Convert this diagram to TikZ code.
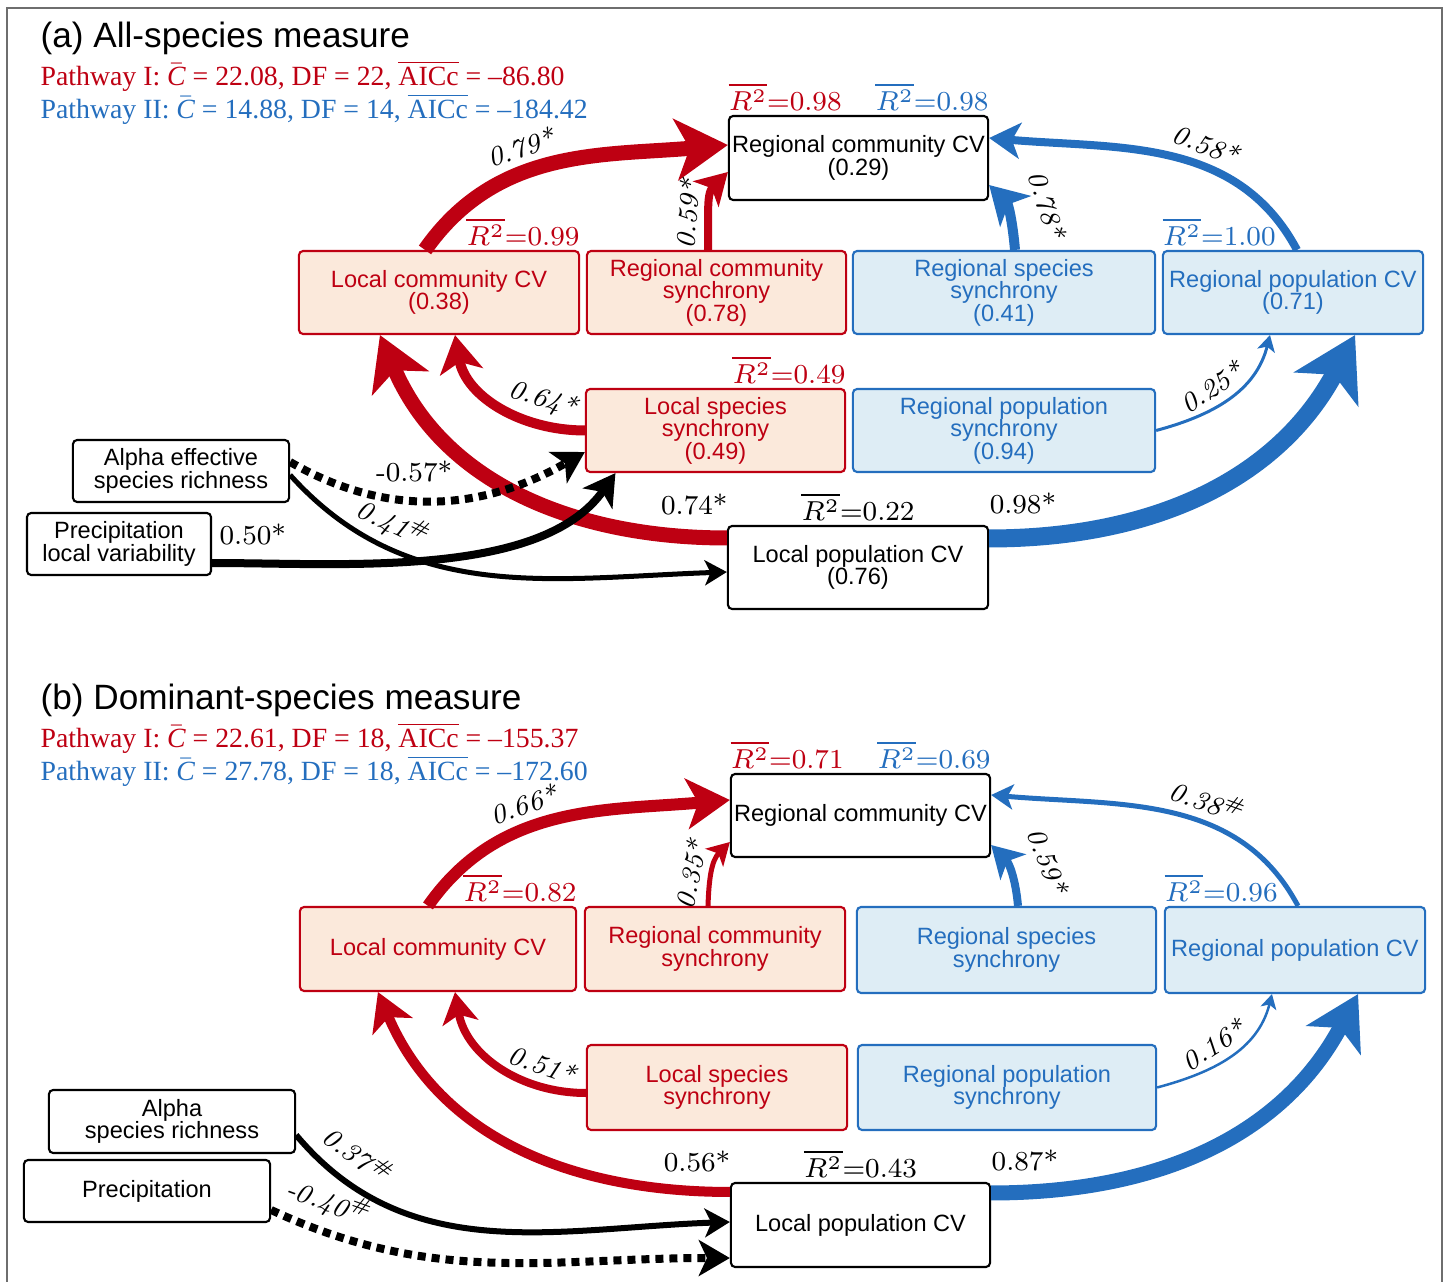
\RequirePackage{fix-cm}
\documentclass[tikz,border=0pt]{standalone}
\usepackage{fontspec}
\usetikzlibrary{arrows.meta, positioning}

\newfontfamily\sansf{Liberation Sans}
\newfontfamily\serifp{Liberation Serif}
\definecolor{pathone}{RGB}{190,0,18}
\definecolor{pathtwo}{RGB}{36,110,190}
\definecolor{peach}{RGB}{251,233,219}
\definecolor{skyfill}{RGB}{222,237,245}
\definecolor{framegray}{RGB}{110,110,110}

\newcommand{\boxfont}{\sansf\fontsize{6.7}{6.4}\selectfont}
\newcommand{\titlefont}{\sansf\fontsize{10}{12}\selectfont}
\newcommand{\pathfont}{\serifp\fontsize{7.9}{8}\selectfont}
\newcommand{\coeffont}{\fontsize{7.8}{9}\selectfont}
\newcommand{\rsq}[1]{$\overline{R^2}$=#1}
\newcommand{\cbar}{$\bar{\mbox{\itshape C}}$}
\newcommand{\aicc}{$\overline{\mbox{AICc}}$}

\tikzset{
  x=0.01cm, y=0.01cm, % one unit is one pixel of the original figure
  varbox/.style={draw, rounded corners=1.2pt, align=center, inner sep=0pt, line width=0.6pt, font=\boxfont}, % every variable
  blackbox/.style={varbox, fill=white},
  redbox/.style={varbox, draw=pathone, fill=peach, text=pathone}, % pathway I
  bluebox/.style={varbox, draw=pathtwo, fill=skyfill, text=pathtwo}, % pathway II
  link/.style={line width=#1, -{Stealth[length=2pt 3, width=2pt 3.6, inset=0.5pt 0.8]}}, % width follows the coefficient
  redlink/.style={link=#1, draw=pathone},
  bluelink/.style={link=#1, draw=pathtwo},
  blacklink/.style={link=#1, draw=black},
  dashlink/.style={link=#1, draw=black, dash pattern=on 0.08cm off 0.06cm},
  coef/.style={font=\coeffont, inner sep=0pt},
  rsqlab/.style={font=\coeffont, inner sep=0pt, yshift=1pt},
}

\begin{document}
\begin{tikzpicture}
  \useasboundingbox (0,0) rectangle (1447,-1282);
  \draw[framegray, line width=0.5pt] (7,-1282) -- (7,-8) -- (1442,-8) -- (1442,-1282);

  % (a) all-species measure
  \node[anchor=west, inner sep=0pt, font=\titlefont] (TITLE_A) at (40,-38) {(a) All-species measure};
  \node[anchor=west, inner sep=0pt, font=\pathfont, text=pathone] (PATH1_A) at (40,-76) {Pathway I: \cbar{} = 22.08, DF = 22, \aicc{} = –86.80};
  \node[anchor=west, inner sep=0pt, font=\pathfont, text=pathtwo] (PATH2_A) at (40,-109) {Pathway II: \cbar{} = 14.88, DF = 14, \aicc{} = –184.42};

  \node[blackbox, minimum width=2.59cm, minimum height=0.84cm] (RCCV_A) at (858.5,-158) {Regional community CV\\(0.29)};
  \node[redbox, minimum width=2.80cm, minimum height=0.83cm] (LCCV_A) at (439,-292.5) {Local community CV\\(0.38)};
  \node[redbox, minimum width=2.59cm, minimum height=0.83cm] (RCS_A) at (716.5,-292.5) {Regional community\\synchrony\\(0.78)};
  \node[bluebox, minimum width=3.02cm, minimum height=0.83cm] (RSS_A) at (1004,-292.5) {Regional species\\synchrony\\(0.41)};
  \node[bluebox, minimum width=2.60cm, minimum height=0.83cm] (RPCV_A) at (1293,-292.5) {Regional population CV\\(0.71)};
  \node[redbox, minimum width=2.59cm, minimum height=0.83cm] (LSS_A) at (715.5,-430.5) {Local species\\synchrony\\(0.49)};
  \node[bluebox, minimum width=3.02cm, minimum height=0.83cm] (RPS_A) at (1004,-430.5) {Regional population\\synchrony\\(0.94)};
  \node[blackbox, minimum width=2.16cm, minimum height=0.62cm] (AESR_A) at (181,-471) {Alpha effective\\species richness};
  \node[blackbox, minimum width=1.84cm, minimum height=0.62cm] (PLV_A) at (119,-544) {Precipitation\\local variability};
  \node[blackbox, minimum width=2.60cm, minimum height=0.83cm] (LPCV_A) at (858,-567.5) {Local population CV\\(0.76)};

  \node[rsqlab, text=pathone, anchor=south west] (R2_RCCV_A1) at (RCCV_A.north west) {\rsq{0.98}};
  \node[rsqlab, text=pathtwo, anchor=south east] (R2_RCCV_A2) at (RCCV_A.north east) {\rsq{0.98}};
  \node[rsqlab, text=pathone, anchor=south east] (R2_LCCV_A) at (LCCV_A.north east) {\rsq{0.99}};
  \node[rsqlab, text=pathtwo, anchor=south west] (R2_RPCV_A) at (RPCV_A.north west) {\rsq{1.00}};
  \node[rsqlab, text=pathone, anchor=south east] (R2_LSS_A) at (LSS_A.north east) {\rsq{0.49}};
  \node[rsqlab, anchor=south] (R2_LPCV_A) at (LPCV_A.north) {\rsq{0.22}};

  \draw ([xshift=-0.14cm]LCCV_A.north) edge[redlink=0.15cm, out=55, in=185] node[coef, sloped, above=2pt, pos=0.41] (K_A1) {\textit{0.79*}} ([yshift=0.13cm]RCCV_A.west);
  \draw ([xshift=-0.085cm]RCS_A.north) edge[redlink=0.08cm, out=88, in=225] node[coef, sloped, above=2pt, pos=0.4] (K_A2) {\textit{0.59*}} ([yshift=-0.14cm]RCCV_A.west);
  \draw ([xshift=0.11cm]RSS_A.north) edge[bluelink=0.10cm, out=95, in=-45] node[coef, sloped, above=7pt, pos=0.45] (K_A3) {\textit{0.78*}} ([yshift=-0.27cm]RCCV_A.east);
  \draw ([xshift=0.04cm]RPCV_A.north) edge[bluelink=0.08cm, out=118, in=-5] node[coef, sloped, above=2pt, pos=0.4] (K_A4) {\textit{0.58*}} ([yshift=0.20cm]RCCV_A.east);
  \draw (LSS_A.west) edge[redlink=0.10cm, out=180, in=-80] node[coef, sloped, above=2pt, pos=0.27] (K_A5) {\textit{0.64*}} ([xshift=0.16cm]LCCV_A.south);
  \draw ([yshift=0.295cm]LPCV_A.west) edge[redlink=0.15cm, out=180, in=-67] node[coef, above=4pt, pos=0.07] (K_A6) {0.74*} ([xshift=-0.59cm]LCCV_A.south);
  \draw ([yshift=0.29cm]LPCV_A.east) edge[bluelink=0.18cm, out=0, in=-118] node[coef, above=4pt, pos=0.07] (K_A7) {0.98*} ([xshift=0.62cm]RPCV_A.south);
  \draw (RPS_A.east) edge[bluelink=0.03cm, out=15, in=-104] node[coef, sloped, above=2pt, pos=0.45] (K_A8) {\textit{0.25*}} ([xshift=-0.23cm]RPCV_A.south);
  \draw ([yshift=0.09cm]AESR_A.east) edge[dashlink=0.08cm, out=-30, in=210] node[coef, above=4pt, pos=0.42] (K_A9) {-0.57*} ([yshift=-0.215cm]LSS_A.west);
  \draw ([yshift=-0.04cm]AESR_A.east) edge[blacklink=0.05cm, out=-48, in=182] node[coef, sloped, above=2pt, pos=0.25] (K_A10) {\textit{0.41}\textsuperscript{\#}} ([yshift=-0.045cm]LPCV_A.west);
  \draw ([yshift=-0.19cm]PLV_A.east) edge[blacklink=0.08cm, out=0, in=235, looseness=0.8] node[coef, above=4pt, pos=0.1] (K_A11) {0.50*} ([xshift=-1.0cm]LSS_A.south);

  % (b) dominant-species measure
  \node[anchor=west, inner sep=0pt, font=\titlefont] (TITLE_B) at (40,-700) {(b) Dominant-species measure};
  \node[anchor=west, inner sep=0pt, font=\pathfont, text=pathone] (PATH1_B) at (40,-738) {Pathway I: \cbar{} = 22.61, DF = 18, \aicc{} = –155.37};
  \node[anchor=west, inner sep=0pt, font=\pathfont, text=pathtwo] (PATH2_B) at (40,-771) {Pathway II: \cbar{} = 27.78, DF = 18, \aicc{} = –172.60};

  \node[blackbox, minimum width=2.59cm, minimum height=0.83cm] (RCCV_B) at (860.5,-815.5) {Regional community CV};
  \node[redbox, minimum width=2.76cm, minimum height=0.84cm] (LCCV_B) at (438,-949) {Local community CV};
  \node[redbox, minimum width=2.60cm, minimum height=0.84cm] (RCS_B) at (715,-949) {Regional community\\synchrony};
  \node[bluebox, minimum width=2.99cm, minimum height=0.86cm] (RSS_B) at (1006.5,-950) {Regional species\\synchrony};
  \node[bluebox, minimum width=2.60cm, minimum height=0.86cm] (RPCV_B) at (1295,-950) {Regional population CV};
  \node[redbox, minimum width=2.60cm, minimum height=0.85cm] (LSS_B) at (717,-1087.5) {Local species\\synchrony};
  \node[bluebox, minimum width=2.98cm, minimum height=0.85cm] (RPS_B) at (1007,-1087.5) {Regional population\\synchrony};
  \node[blackbox, minimum width=2.46cm, minimum height=0.63cm] (ASR_B) at (172,-1121.5) {Alpha\\species richness};
  \node[blackbox, minimum width=2.46cm, minimum height=0.62cm] (PR_B) at (147,-1191) {Precipitation};
  \node[blackbox, minimum width=2.59cm, minimum height=0.84cm] (LPCV_B) at (860.5,-1225) {Local population CV};

  \node[rsqlab, text=pathone, anchor=south west] (R2_RCCV_B1) at (RCCV_B.north west) {\rsq{0.71}};
  \node[rsqlab, text=pathtwo, anchor=south east] (R2_RCCV_B2) at (RCCV_B.north east) {\rsq{0.69}};
  \node[rsqlab, text=pathone, anchor=south east] (R2_LCCV_B) at (LCCV_B.north east) {\rsq{0.82}};
  \node[rsqlab, text=pathtwo, anchor=south west] (R2_RPCV_B) at (RPCV_B.north west) {\rsq{0.96}};
  \node[rsqlab, anchor=south] (R2_LPCV_B) at (LPCV_B.north) {\rsq{0.43}};

  \draw ([xshift=-0.10cm]LCCV_B.north) edge[redlink=0.12cm, out=55, in=185] node[coef, sloped, above=2pt, pos=0.41] (K_B1) {\textit{0.66*}} ([yshift=0.155cm]RCCV_B.west);
  \draw ([xshift=-0.07cm]RCS_B.north) edge[redlink=0.05cm, out=88, in=225] node[coef, sloped, above=2pt, pos=0.4] (K_B2) {\textit{0.35*}} ([yshift=-0.265cm]RCCV_B.west);
  \draw ([xshift=0.115cm]RSS_B.north) edge[bluelink=0.08cm, out=95, in=-45] node[coef, sloped, above=7pt, pos=0.45] (K_B3) {\textit{0.59*}} ([yshift=-0.295cm]RCCV_B.east);
  \draw ([xshift=0.03cm]RPCV_B.north) edge[bluelink=0.05cm, out=118, in=-5] node[coef, sloped, above=2pt, pos=0.4] (K_B4) {\textit{0.38}\textsuperscript{\#}} ([yshift=0.205cm]RCCV_B.east);
  \draw ([yshift=-0.055cm]LSS_B.west) edge[redlink=0.08cm, out=180, in=-80] node[coef, sloped, above=2pt, pos=0.27] (K_B5) {\textit{0.51*}} ([xshift=0.17cm]LCCV_B.south);
  \draw ([yshift=0.33cm]LPCV_B.west) edge[redlink=0.10cm, out=180, in=-67] node[coef, above=4pt, pos=0.07] (K_B6) {0.56*} ([xshift=-0.60cm]LCCV_B.south);
  \draw ([yshift=0.32cm]LPCV_B.east) edge[bluelink=0.15cm, out=0, in=-118] node[coef, above=4pt, pos=0.07] (K_B7) {0.87*} ([xshift=0.63cm]RPCV_B.south);
  \draw (RPS_B.east) edge[bluelink=0.025cm, out=15, in=-104] node[coef, sloped, above=2pt, pos=0.45] (K_B8) {\textit{0.16*}} ([xshift=-0.23cm]RPCV_B.south);
  \draw ([yshift=-0.135cm]ASR_B.east) edge[blacklink=0.06cm, out=-50, in=182] node[coef, sloped, above=4pt, pos=0.13] (K_B9) {\textit{0.37}\textsuperscript{\#}} ([yshift=0.03cm]LPCV_B.west);
  \draw ([yshift=-0.19cm]PR_B.east) edge[dashlink=0.08cm, out=-25, in=180] node[coef, sloped, above=3pt, pos=0.1] (K_B10) {\textit{-0.40}\textsuperscript{\#}} ([yshift=-0.33cm]LPCV_B.west);
\end{tikzpicture}
\end{document}
